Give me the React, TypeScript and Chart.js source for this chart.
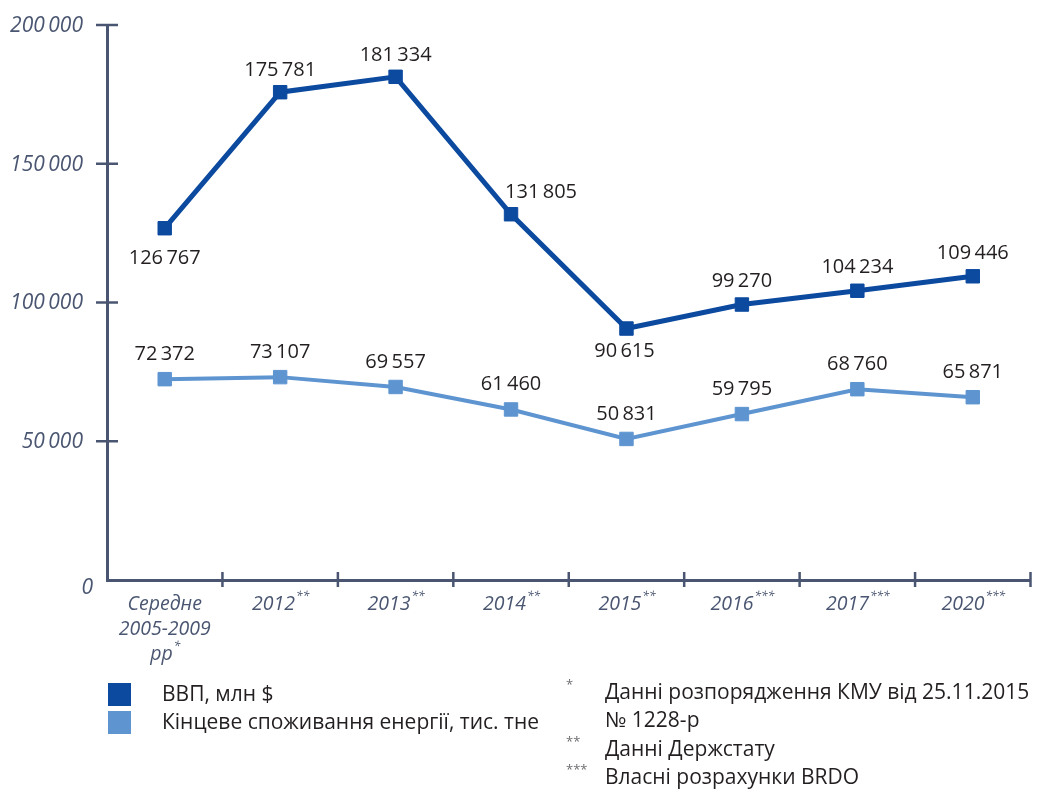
import React, { useEffect, useRef } from "react";
import { Chart, registerables } from "chart.js";

Chart.register(...registerables);

const categoryLines: string[][] = [
  ["Середне", "2005-2009", "рр"],
  ["2012"],
  ["2013"],
  ["2014"],
  ["2015"],
  ["2016"],
  ["2017"],
  ["2020"],
];
const categoryMarks: string[] = ["*", "**", "**", "**", "**", "***", "***", "***"];
const gdpValues: number[] = [126767, 175781, 181334, 131805, 90615, 99270, 104234, 109446];
const energyValues: number[] = [72372, 73107, 69557, 61460, 50831, 59795, 68760, 65871];
const yTickValues: number[] = [0, 50000, 100000, 150000, 200000];
const seriesNames: string[] = ["ВВП, млн $", "Кінцеве споживання енергії, тис. тне"];
const footnoteMarks: string[] = ["*", "", "**", "***"];
const footnoteTexts: string[] = [
  "Данні розпорядження КМУ від 25.11.2015",
  "№ 1228-р",
  "Данні Держстату",
  "Власні розрахунки BRDO",
];

// label placement (style): [dx, dy] offsets from the point
const gdpLabelOffsets: [number, number][] = [
  [0, 30], [0, -22], [0, -22], [30, -22], [-2, 23], [0, -23], [0, -23], [0, -23],
];

const FONT = '"Open Sans", "Noto Sans", sans-serif';
const AXIS = "#4a5671";
const GDP_COLOR = "#0c4a9f";
const EN_COLOR = "#5e95d1";
const TEXT = "#231f20";

const fmt = (n: number) => String(n).replace(/\B(?=(\d{3})+(?!\d))/g, "\u2009");

const overlay = {
  id: "overlay",
  afterDraw(chart: any) {
    const ctx: CanvasRenderingContext2D = chart.ctx;
    const xs = chart.scales.x;
    const ys = chart.scales.y;
    const area = chart.chartArea;
    ctx.save();
    // y cross ticks
    ctx.strokeStyle = AXIS;
    ctx.lineWidth = 2.5;
    ys.ticks.forEach((t: any) => {
      if (t.value === 0) return;
      const py = ys.getPixelForValue(t.value);
      ctx.beginPath();
      ctx.moveTo(area.left - 11, py);
      ctx.lineTo(area.left + 11, py);
      ctx.stroke();
    });
    // y labels
    ctx.fillStyle = AXIS;
    ctx.font = `italic 21px ${FONT}`;
    ctx.textAlign = "right";
    ctx.textBaseline = "middle";
    ys.ticks.forEach((t: any) => {
      const py = ys.getPixelForValue(t.value);
      if (t.value === 0) ctx.fillText("0", area.left - 14, py + 8);
      else ctx.fillText(fmt(t.value), area.left - 24, py + 1);
    });
    // x cross ticks
    const half = (xs.getPixelForValue(1) - xs.getPixelForValue(0)) / 2;
    for (let i = 0; i < categoryLines.length; i++) {
      const px = xs.getPixelForValue(i) + half;
      ctx.beginPath();
      ctx.moveTo(px, area.bottom - 8);
      ctx.lineTo(px, area.bottom + 7);
      ctx.stroke();
    }
    // x labels
    ctx.fillStyle = AXIS;
    ctx.textBaseline = "middle";
    for (let i = 0; i < categoryLines.length; i++) {
      const cx = xs.getPixelForValue(i);
      const lines = categoryLines[i];
      lines.forEach((ln, j) => {
        const ly = area.bottom + 24 + j * 25;
        ctx.font = `italic 19.5px ${FONT}`;
        const w = ctx.measureText(ln).width;
        ctx.font = `italic 12px ${FONT}`;
        const isLast = j === lines.length - 1;
        const mw = isLast ? ctx.measureText(categoryMarks[i]).width : 0;
        const start = cx - (w + mw) / 2;
        ctx.font = `italic 19.5px ${FONT}`;
        ctx.textAlign = "left";
        ctx.fillText(ln, start, ly);
        if (isLast) {
          ctx.font = `italic 12px ${FONT}`;
          ctx.fillText(categoryMarks[i], start + w + 1, ly - 7);
        }
      });
    }
    // data labels
    ctx.fillStyle = TEXT;
    ctx.font = `20px ${FONT}`;
    ctx.textAlign = "center";
    ctx.textBaseline = "middle";
    const m0 = chart.getDatasetMeta(0);
    m0.data.forEach((p: any, i: number) => {
      const [dx, dy] = gdpLabelOffsets[i];
      ctx.fillText(fmt(gdpValues[i]), p.x + dx, p.y + dy);
    });
    const m1 = chart.getDatasetMeta(1);
    m1.data.forEach((p: any, i: number) => {
      ctx.fillText(fmt(energyValues[i]), p.x, p.y - 25);
    });
    // legend
    const colors = [GDP_COLOR, EN_COLOR];
    ctx.font = `21px ${FONT}`;
    ctx.textAlign = "left";
    seriesNames.forEach((nm, i) => {
      const top = 683 + i * 28;
      ctx.fillStyle = colors[i];
      ctx.fillRect(108, top, 23, 23);
      ctx.fillStyle = TEXT;
      ctx.fillText(nm, 162, top + 12);
    });
    // footnotes
    footnoteTexts.forEach((t, i) => {
      const ly = 693 + i * 28.5;
      if (footnoteMarks[i]) {
        ctx.font = `13px ${FONT}`;
        ctx.fillStyle = "#6d6e71";
        ctx.fillText(footnoteMarks[i], 566, ly - 8);
      }
      ctx.font = `21px ${FONT}`;
      ctx.fillStyle = TEXT;
      ctx.fillText(t, 605, ly);
    });
    ctx.restore();
  },
};

export default function App() {
  const ref = useRef<HTMLCanvasElement | null>(null);
  useEffect(() => {
    if (!ref.current) return;
    const chart = new Chart(ref.current, {
      type: "line",
      data: {
        labels: categoryLines.map((l) => l.join(" ")),
        datasets: [
          {
            label: seriesNames[0],
            data: gdpValues,
            borderColor: GDP_COLOR,
            backgroundColor: GDP_COLOR,
            borderWidth: 5,
            pointStyle: "rect",
            pointRadius: 9.5,
            pointBorderWidth: 1,
            pointHoverRadius: 9.5,
            tension: 0,
          },
          {
            label: seriesNames[1],
            data: energyValues,
            borderColor: EN_COLOR,
            backgroundColor: EN_COLOR,
            borderWidth: 4,
            pointStyle: "rect",
            pointRadius: 9.5,
            pointBorderWidth: 1,
            pointHoverRadius: 9.5,
            tension: 0,
          },
        ],
      },
      options: {
        animation: false,
        responsive: false,
        events: [],
        layout: { padding: { top: 25, right: 1, left: 0, bottom: 0 } },
        plugins: { legend: { display: false }, tooltip: { enabled: false } },
        scales: {
          x: {
            type: "category",
            offset: true,
            grid: { display: false, drawTicks: false, offset: true },
            border: { display: true, color: AXIS, width: 3 },
            ticks: { display: false },
            afterFit: (s: any) => {
              s.height = 209;
            },
          },
          y: {
            min: 0,
            max: 200000,
            afterBuildTicks: (s: any) => {
              s.ticks = yTickValues.map((v) => ({ value: v }));
            },
            grid: { display: false, drawTicks: false },
            border: { display: true, color: AXIS, width: 3 },
            ticks: { display: false },
            afterFit: (s: any) => {
              s.width = 107;
            },
          },
        },
      },
      plugins: [overlay],
    });
    return () => chart.destroy();
  }, []);
  return (
    <div style={{ position: "absolute", left: 0, top: 0, width: 1041, height: 789, background: "#fff" }}>
      <canvas ref={ref} width={1041} height={789} />
    </div>
  );
}
